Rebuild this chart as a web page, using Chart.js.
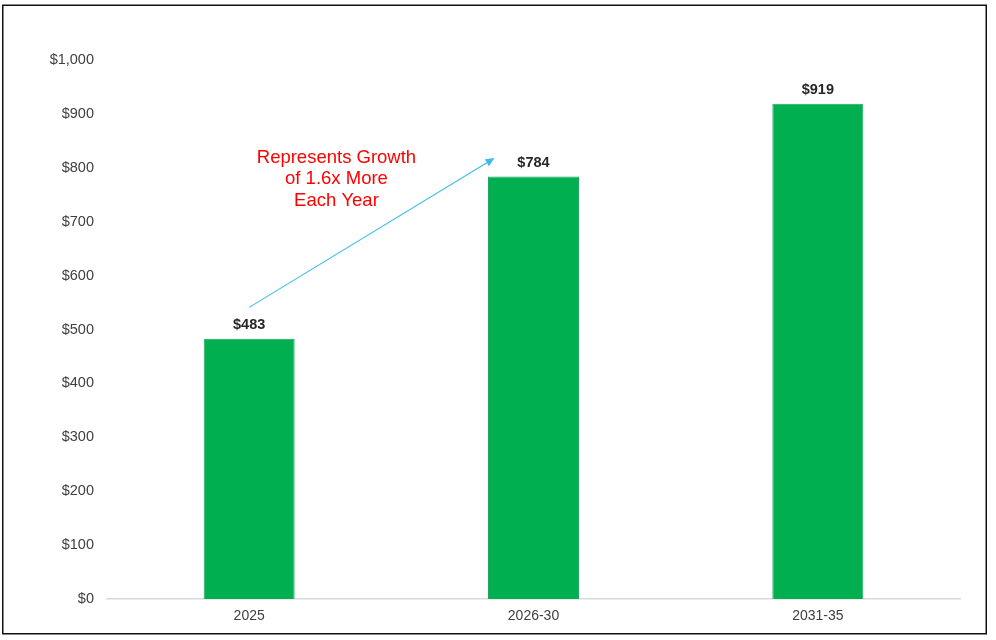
<!DOCTYPE html>
<html>
<head>
<meta charset="utf-8">
<script src="https://cdn.jsdelivr.net/npm/chart.js@4"></script>
<style>
  html, body { margin: 0; padding: 0; background: #ffffff; }
  #wrap { position: relative; width: 996px; height: 640px; }
</style>
</head>
<body>
<div id="wrap"><canvas id="c" width="996" height="640"></canvas></div>
<script>
// ---- data ----
const categories = ['2025', '2026-30', '2031-35'];
const values = [483, 784, 919];
const yMin = 0;
const yMax = 1000;
const yStep = 100;
// annotation (in data space: category index, value)
const noteLines = ['Represents Growth', 'of 1.6x More', 'Each Year'];
const notePos = [0.307, 779];
const arrowStart = [0, 541];
const arrowEnd = [0.863, 818];

const fontFamily = '"Liberation Sans", Arial, Helvetica, sans-serif';

const frame = {
  id: 'frame',
  beforeDraw(chart) {
    const ctx = chart.ctx;
    ctx.save();
    ctx.fillStyle = '#ffffff';
    ctx.fillRect(0, 0, chart.width, chart.height);
    ctx.restore();
  },
  afterDraw(chart) {
    const ctx = chart.ctx;
    ctx.save();
    ctx.strokeStyle = '#111111';
    ctx.lineWidth = 1.5;
    ctx.strokeRect(2.75, 5.25, 983.5, 628.5);
    ctx.restore();
  }
};

const labelsPlugin = {
  id: 'barLabels',
  afterDatasetsDraw(chart) {
    const ctx = chart.ctx;
    const meta = chart.getDatasetMeta(0);
    ctx.save();
    ctx.font = 'bold 14.5px ' + fontFamily;
    ctx.fillStyle = '#262626';
    ctx.textAlign = 'center';
    ctx.textBaseline = 'bottom';
    meta.data.forEach((bar, i) => {
      ctx.fillText('$' + values[i].toLocaleString('en-US'), bar.x, bar.y - 6);
    });
    ctx.restore();
  }
};

const notePlugin = {
  id: 'note',
  afterDatasetsDraw(chart) {
    const xs = chart.scales.x, ys = chart.scales.y;
    const ctx = chart.ctx;
    const x1 = xs.getPixelForValue(arrowStart[0]), y1 = ys.getPixelForValue(arrowStart[1]);
    const x2 = xs.getPixelForValue(arrowEnd[0]), y2 = ys.getPixelForValue(arrowEnd[1]);
    ctx.save();
    ctx.strokeStyle = '#3cbcec';
    ctx.fillStyle = '#3cbcec';
    ctx.lineWidth = 1.1;
    const ang = Math.atan2(y2 - y1, x2 - x1);
    const hl = 9, hw = 4;
    const bx = x2 - hl * Math.cos(ang), by = y2 - hl * Math.sin(ang);
    ctx.beginPath();
    ctx.moveTo(x1, y1);
    ctx.lineTo(bx, by);
    ctx.stroke();
    ctx.beginPath();
    ctx.moveTo(x2, y2);
    ctx.lineTo(bx + hw * Math.sin(ang), by - hw * Math.cos(ang));
    ctx.lineTo(bx - hw * Math.sin(ang), by + hw * Math.cos(ang));
    ctx.closePath();
    ctx.fill();

    const tx = xs.getPixelForValue(notePos[0]);
    const ty = ys.getPixelForValue(notePos[1]);
    ctx.font = '18.5px ' + fontFamily;
    ctx.fillStyle = '#ff0000';
    ctx.textAlign = 'center';
    ctx.textBaseline = 'middle';
    const lh = 21.3;
    noteLines.forEach((t, i) => {
      ctx.fillText(t, tx, ty + (i - (noteLines.length - 1) / 2) * lh);
    });
    ctx.restore();
  }
};

new Chart(document.getElementById('c'), {
  type: 'bar',
  data: {
    labels: categories,
    datasets: [{
      data: values,
      backgroundColor: '#00b050',
      borderColor: '#1fa463',
      borderWidth: 1,
      categoryPercentage: 0.32,
      barPercentage: 1.0
    }]
  },
  options: {
    responsive: false,
    animation: false,
    devicePixelRatio: 1,
    layout: { padding: { left: 10, right: 36, top: 60, bottom: 6 } },
    plugins: { legend: { display: false }, tooltip: { enabled: false } },
    scales: {
      x: {
        grid: { display: false, drawTicks: false },
        border: { display: true, color: '#d9d9d9', width: 1.5 },
        ticks: { color: '#404040', font: { family: fontFamily, size: 14 }, padding: 9 },
        afterFit(s) { s.height = 35; }
      },
      y: {
        min: yMin, max: yMax,
        grid: { display: false, drawTicks: false },
        border: { display: false },
        ticks: {
          stepSize: yStep,
          color: '#404040',
          font: { family: fontFamily, size: 14.5 },
          padding: 13,
          callback: v => '$' + v.toLocaleString('en-US')
        },
        afterFit(s) { s.width = 97; }
      }
    }
  },
  plugins: [frame, labelsPlugin, notePlugin]
});
</script>
</body>
</html>
